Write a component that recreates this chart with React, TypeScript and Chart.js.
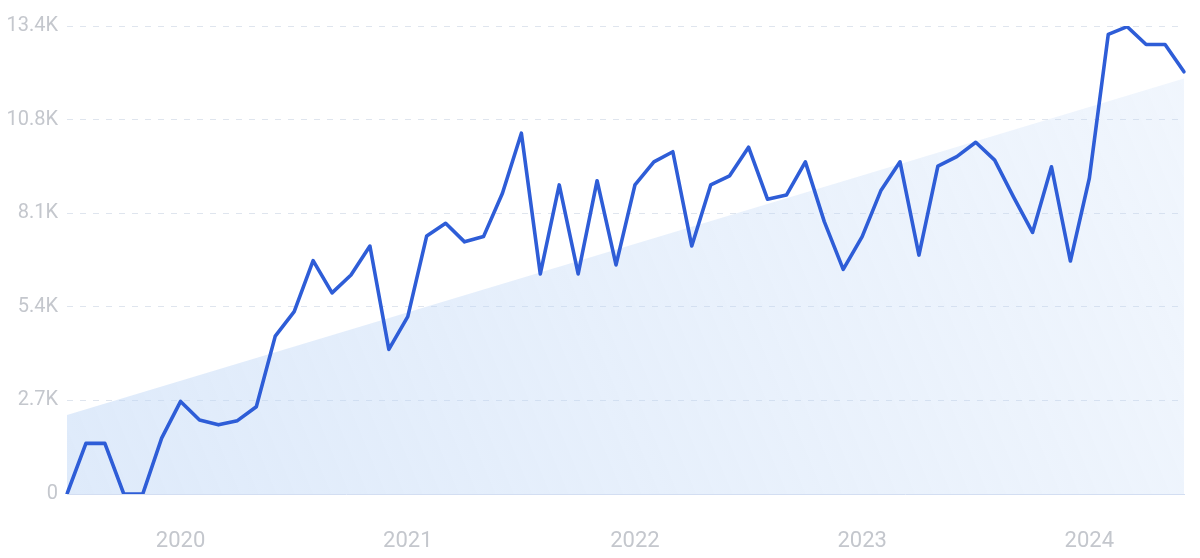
import React, { useEffect, useRef } from "react";
import { Chart, registerables } from "chart.js";

Chart.register(...registerables);

const months: string[] = [
  "2019-07", "2019-08", "2019-09", "2019-10", "2019-11", "2019-12",
  "2020-01", "2020-02", "2020-03", "2020-04", "2020-05", "2020-06",
  "2020-07", "2020-08", "2020-09", "2020-10", "2020-11", "2020-12",
  "2021-01", "2021-02", "2021-03", "2021-04", "2021-05", "2021-06",
  "2021-07", "2021-08", "2021-09", "2021-10", "2021-11", "2021-12",
  "2022-01", "2022-02", "2022-03", "2022-04", "2022-05", "2022-06",
  "2022-07", "2022-08", "2022-09", "2022-10", "2022-11", "2022-12",
  "2023-01", "2023-02", "2023-03", "2023-04", "2023-05", "2023-06",
  "2023-07", "2023-08", "2023-09", "2023-10", "2023-11", "2023-12",
  "2024-01", "2024-02", "2024-03", "2024-04", "2024-05", "2024-06",
];

const searches: number[] = [
  0, 1450, 1450, 0, 0, 1600,
  2650, 2120, 1980, 2100, 2500, 4520,
  5220, 6680, 5760, 6270, 7100, 4140,
  5080, 7390, 7750, 7220, 7370, 8610,
  10330, 6300, 8850, 6300, 8970, 6560,
  8850, 9510, 9800, 7100, 8850, 9110,
  9930, 8440, 8560, 9510, 7800, 6430,
  7370, 8700, 9510, 6840, 9390, 9660,
  10070, 9560, 8500, 7490, 9370, 6670,
  9040, 13160, 13380, 12870, 12870, 12090,
];

// Trend line endpoints (start and end month)
const trendStart = 2260;
const trendEnd = 11900;

const yTickLabels: string[] = ["0", "2.7K", "5.4K", "8.1K", "10.8K", "13.4K"];
const yMax = 13400;
const yStep = 2680;

export default function App() {
  const ref = useRef<HTMLCanvasElement | null>(null);

  useEffect(() => {
    if (!ref.current) return;
    const labelColor = "#c4c7cd";
    const chart = new Chart(ref.current, {
      type: "line",
      data: {
        labels: months,
        datasets: [
          {
            label: "Searches",
            data: searches,
            borderColor: "#2e5dd7",
            borderWidth: 3.6,
            pointRadius: 0,
            tension: 0,
            fill: false,
            order: 0,
            borderJoinStyle: "round",
            borderCapStyle: "round",
          },
          {
            label: "Trend",
            data: [
              { x: months[0], y: trendStart },
              { x: months[months.length - 1], y: trendEnd },
            ] as any,
            borderWidth: 0,
            borderColor: "rgba(0,0,0,0)",
            pointRadius: 0,
            fill: "origin",
            order: 1,
            backgroundColor: (ctx: any) => {
              const c = ctx.chart;
              const area = c.chartArea;
              if (!area) return "rgba(190,214,246,0.4)";
              const g = c.ctx.createLinearGradient(area.left, area.bottom, area.right, area.top);
              g.addColorStop(0, "rgba(190,214,246,0.50)");
              g.addColorStop(1, "rgba(190,214,246,0.22)");
              return g;
            },
          },
        ],
      },
      options: {
        responsive: false,
        animation: false,
        layout: { padding: { left: 0, right: 16, top: 26, bottom: 0 } },
        plugins: { legend: { display: false }, tooltip: { enabled: false } },
        scales: {
          x: {
            type: "category",
            offset: false,
            grid: { display: false, drawTicks: false },
            border: { display: true, color: "#d3def2", width: 1 },
            ticks: {
              autoSkip: false,
              maxRotation: 0,
              minRotation: 0,
              padding: 34,
              color: labelColor,
              font: { family: "Roboto", size: 22 },
              callback: (_v: any, i: number) => {
                const m = months[i];
                return m && m.endsWith("-01") ? m.slice(0, 4) : "";
              },
            },
            afterFit: (s: any) => {
              s.height = 64;
              s.paddingLeft = 0;
              s.paddingRight = 0;
            },
          },
          y: {
            min: 0,
            max: yMax,
            border: { display: false, dash: [6, 7] },
            grid: { color: "#dfe5ee", lineWidth: 1, drawTicks: false },
            ticks: {
              stepSize: yStep,
              padding: 9,
              color: labelColor,
              font: { family: "Roboto", size: 20 },
              callback: (_v: any, i: number) => yTickLabels[i] ?? "",
            },
            afterFit: (s: any) => {
              s.width = 67;
            },
          },
        },
      },
    });
    return () => chart.destroy();
  }, []);

  return (
    <div style={{ position: "absolute", left: 0, top: 0, width: 1200, height: 558, background: "#fff" }}>
      <canvas ref={ref} width={1200} height={558} />
    </div>
  );
}
